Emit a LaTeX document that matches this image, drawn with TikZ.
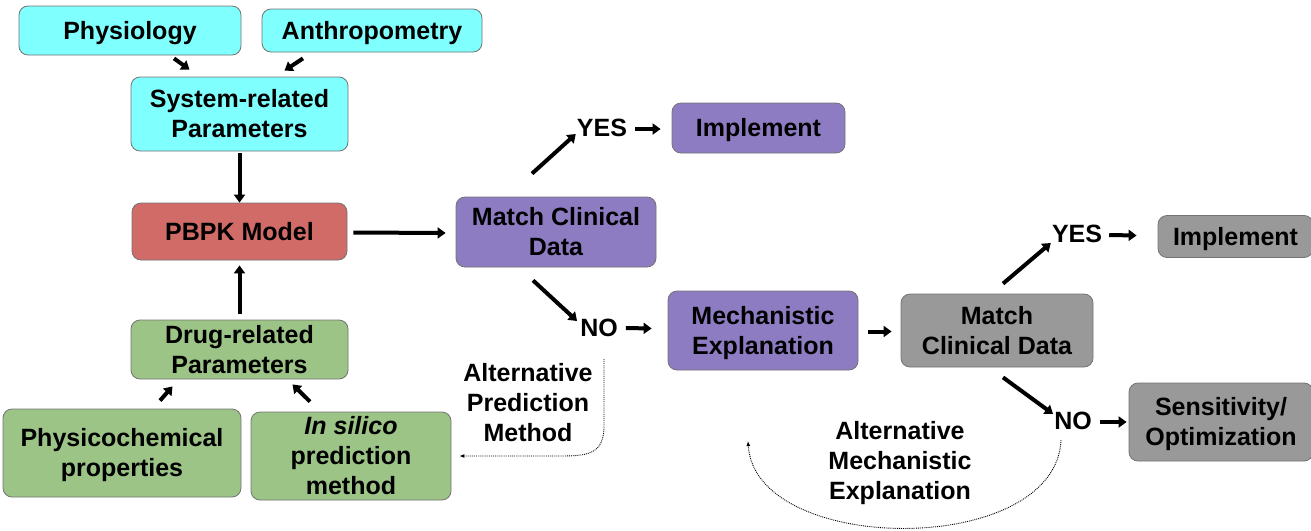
\documentclass[tikz,border=0pt]{standalone}
\usepackage{fontspec}
\setmainfont{Liberation Sans}
\usetikzlibrary{arrows.meta,calc}
\definecolor{cyanf}{HTML}{80FFFF}
\definecolor{redf}{HTML}{D06B68}
\definecolor{purf}{HTML}{8E7CC3}
\definecolor{greenf}{HTML}{9CC487}
\definecolor{grayf}{HTML}{999999}
\begin{document}
\begin{tikzpicture}[x=1pt,y=-1pt,
  box/.style={draw=black!55, line width=0.8pt, rounded corners=9pt, align=center,
    font=\fontsize{25}{30}\selectfont\bfseries, inner sep=0pt, text depth=1pt},
  lbl/.style={align=center, font=\fontsize{25}{30}\selectfont\bfseries, inner sep=0pt},
  arr/.style={line width=4pt, -{Triangle[length=8pt,width=11pt]}},
  dot/.style={densely dotted, line width=0.9pt, -{Latex[length=5pt,width=4pt]}}
]
\useasboundingbox (0,0) rectangle (1311,530);
% left column
\node[box, fill=cyanf, minimum width=222pt, minimum height=49pt] (phys) at (130,30.5) {Physiology};
\node[box, fill=cyanf, minimum width=220pt, minimum height=43pt] (anth) at (372,30.5) {Anthropometry};
\node[box, fill=cyanf, minimum width=217pt, minimum height=74pt] (sys) at (239.5,114) {System-related\\Parameters};
\node[box, fill=redf, minimum width=215pt, minimum height=57pt] (pbpk) at (239.5,231.5) {PBPK Model};
\node[box, fill=greenf, minimum width=217pt, minimum height=59pt] (drug) at (239.5,349.5) {Drug-related\\Parameters};
\node[box, fill=greenf, minimum width=238pt, minimum height=88pt] (physchem) at (122,453) {Physicochemical\\properties};
\node[box, fill=greenf, minimum width=200pt, minimum height=88pt] (insilico) at (351,456) {\textit{In silico}\\prediction\\method};
% middle
\node[box, fill=purf, minimum width=200pt, minimum height=70pt] (match1) at (556,232) {Match Clinical\\Data};
\node[box, fill=purf, minimum width=173pt, minimum height=50pt] (impl1) at (758.5,128) {Implement};
\node[lbl] (yes1) at (602,128) {YES};
\node[lbl] (no1) at (599,328) {NO};
\node[box, fill=purf, minimum width=190pt, minimum height=79pt] (mech) at (763,330.5) {Mechanistic\\Explanation};
\node[lbl] (apm) at (528,403) {Alternative\\Prediction\\Method};
% right
\node[box, fill=grayf, minimum width=192pt, minimum height=73pt] (match2) at (997,330.5) {Match\\Clinical Data};
\node[lbl] (yes2) at (1077,234) {YES};
\node[box, fill=grayf, minimum width=155pt, minimum height=42pt] (impl2) at (1235.5,236.5) {Implement};
\node[lbl] (no2) at (1073,421) {NO};
\node[box, fill=grayf, minimum width=184pt, minimum height=78pt] (sens) at (1221,422) {Sensitivity/\\Optimization};
\node[lbl] (ame) at (900,463) {Alternative\\Mechanistic\\Explanation};
% arrows left
\draw[arr] ($(phys.south)+(44,3)$) -- ($(sys.north)+(-50,-7)$);
\draw[arr] ($(anth.south)+(-69,6)$) -- ($(sys.north)+(45,-6)$);
\draw[arr] ($(sys.south)+(0,2)$) -- (pbpk.north);
\draw[arr] ($(drug.north)+(0,-6)$) -- ($(pbpk.south)+(0,5)$);
\draw[arr] ($(physchem.north)+(38,-8)$) -- ($(drug.south)+(-67,7)$);
\draw[arr] ($(insilico.north)+(-41,-10)$) -- ($(drug.south)+(53,5)$);
\draw[arr] ($(pbpk.east)+(6,1)$) -- ($(match1.west)+(-10,1)$);
% middle arrows
\coordinate (y1s) at ($(match1.north)+(-24,-23)$);
\draw[arr] (y1s) -- ($(yes1.west)+(-1,6)$);
\draw[arr] ($(yes1.east)+(8,1)$) -- ($(impl1.west)+(-11,1)$);
\coordinate (n1s) at ($(match1.south)+(-23,13)$);
\draw[arr] (n1s) -- ($(no1.west)+(-3,-7)$);
\draw[arr] ($(no1.east)+(8,0)$) -- ($(mech.west)+(-16,-2)$);
\draw[arr] ($(mech.east)+(10,1)$) -- ($(match2.west)+(-9,1)$);
% right arrows
\coordinate (y2s) at ($(match2.north)+(6,-10)$);
\draw[arr] (y2s) -- ($(yes2.west)+(-1,9)$);
\draw[arr] ($(yes2.east)+(7,1)$) -- ($(impl2.west)+(-21,-1)$);
\coordinate (n2s) at ($(match2.south)+(6,10)$);
\draw[arr] (n2s) -- ($(no2.west)+(-1,-7)$);
\draw[arr] ($(no2.east)+(8,1)$) -- ($(sens.west)+(-2,0)$);
% dotted feedback arrows
\coordinate (d1s) at ($(no1.south)+(5,22)$);
\coordinate (d1e) at ($(insilico.east)+(8,0)$);
\draw[dot] (d1s) -- (604,428) .. controls (603,454) and (588,456) .. (560,456) -- (d1e);
\coordinate (d2s) at ($(no2.south)+(-12,10)$);
\coordinate (d2e) at (748,441);
\draw[dot] (d2s) .. controls (1056,558) and (755,556) .. (d2e);
\end{tikzpicture}
\end{document}
